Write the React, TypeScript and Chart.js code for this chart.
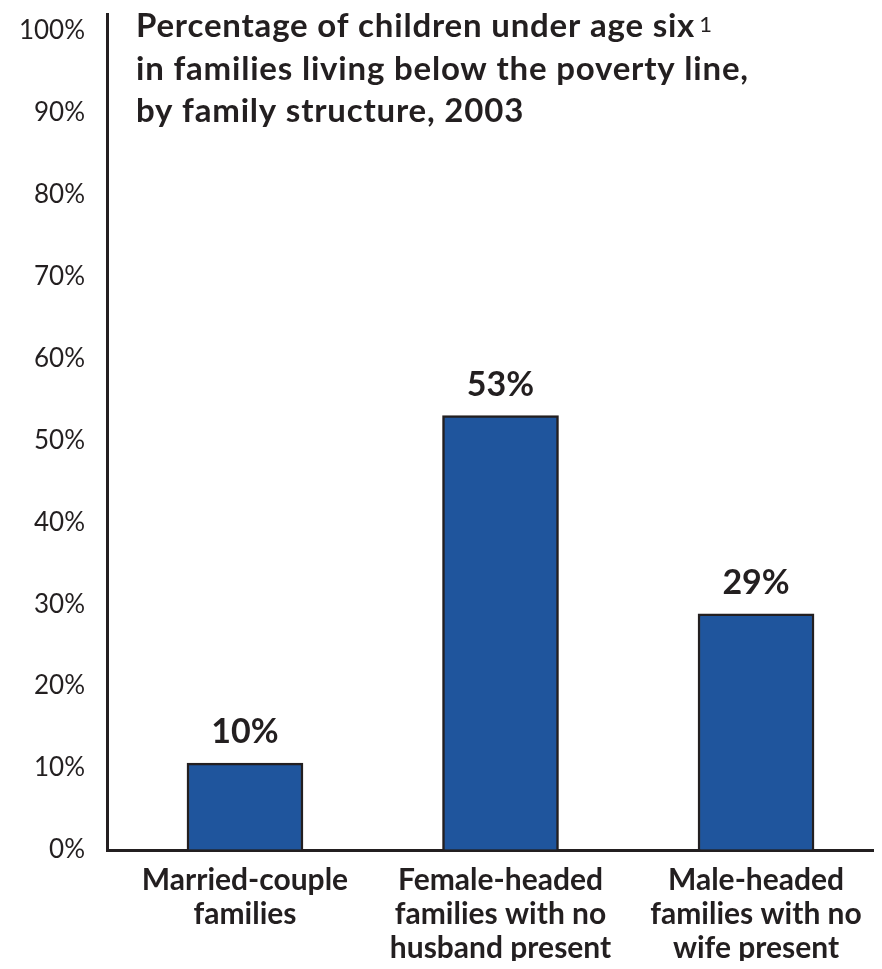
import React, { useEffect, useRef } from "react";
import { Chart, registerables } from "chart.js";

Chart.register(...registerables);

const categories: string[][] = [
  ["Married-couple", "families"],
  ["Female-headed", "families with no", "husband present"],
  ["Male-headed", "families with no", "wife present"],
];
const positions = [0, 1, 2];
const values = [10.6, 53, 28.8];
const valueLabels = ["10%", "53%", "29%"];
const yTicks = [0, 10, 20, 30, 40, 50, 60, 70, 80, 90, 100];
const titleLines = [
  "Percentage of children under age six",
  "in families living below the poverty line,",
  "by family structure, 2003",
];
const footnoteMark = "1";

const INK = "#231f20";
const BAR = "#1f559d";

const labelPlugin = {
  id: "labelPlugin",
  afterDatasetsDraw(chart: any) {
    const ctx = chart.ctx;
    const meta = chart.getDatasetMeta(0);
    ctx.save();
    ctx.fillStyle = INK;
    ctx.textBaseline = "alphabetic";
    ctx.textAlign = "center";
    ctx.font = "bold 34px Lato";
    meta.data.forEach((bar: any, i: number) => {
      ctx.fillText(valueLabels[i], bar.x, bar.y - 20);
    });
    ctx.textAlign = "left";
    ctx.font = "bold 33px Lato";
    (ctx as any).letterSpacing = "0.8px";
    const x0 = chart.chartArea.left + 29;
    titleLines.forEach((line, i) => {
      ctx.fillText(line, x0, 29 + i * 42.5);
    });
    const w = ctx.measureText(titleLines[0]).width;
    (ctx as any).letterSpacing = "0px";
    ctx.font = "22px Lato";
    ctx.fillText(footnoteMark, x0 + w + 4, 24);
    ctx.restore();
  },
};

export default function App() {
  const ref = useRef<HTMLCanvasElement | null>(null);
  useEffect(() => {
    if (!ref.current) return;
    const chart = new Chart(ref.current, {
      type: "bar",
      data: {
        datasets: [
          {
            data: positions.map((x, i) => ({ x, y: values[i] })),
            backgroundColor: BAR,
            borderColor: INK,
            borderWidth: 2.5,
            barThickness: 116,
          } as any,
        ],
      },
      options: {
        animation: false,
        responsive: false,
        layout: { padding: { top: 6, left: 0, right: 0, bottom: 0 } },
        plugins: { legend: { display: false }, tooltip: { enabled: false }, title: { display: false } },
        scales: {
          x: {
            type: "linear",
            min: -0.54,
            max: 2.493,
            offset: false,
            afterBuildTicks: (s: any) => {
              s.ticks = positions.map((v) => ({ value: v }));
            },
            afterFit: (s: any) => {
              s.height = 119;
            },
            grid: { display: false, drawTicks: false },
            border: { display: true, color: INK, width: 3 },
            ticks: {
              callback: (v: any) => categories[v] ?? "",
              font: { family: "Lato", size: 30, weight: "bold", lineHeight: 1.12 },
              color: INK,
              padding: 14,
              maxRotation: 0,
              autoSkip: false,
            },
          },
          y: {
            min: 0,
            max: 102,
            afterBuildTicks: (s: any) => {
              s.ticks = yTicks.map((v) => ({ value: v }));
            },
            afterFit: (s: any) => {
              s.width = 99;
            },
            grid: {
              display: true,
              drawOnChartArea: false,
              drawTicks: true,
              tickLength: 22,
              color: "rgba(0,0,0,0)",
            },
            border: { display: true, color: INK, width: 3 },
            ticks: {
              callback: (v: any) => v + "%",
              font: { family: "Lato", size: 26, lineHeight: 0.3 },
              color: INK,
              padding: 0,
            },
          },
        },
      } as any,
      plugins: [labelPlugin],
    });
    return () => chart.destroy();
  }, []);
  return (
    <div style={{ width: 874, height: 961, marginBottom: -8, position: "relative" }}>
      <canvas ref={ref} width={874} height={961} style={{ display: "block" }} />
    </div>
  );
}
